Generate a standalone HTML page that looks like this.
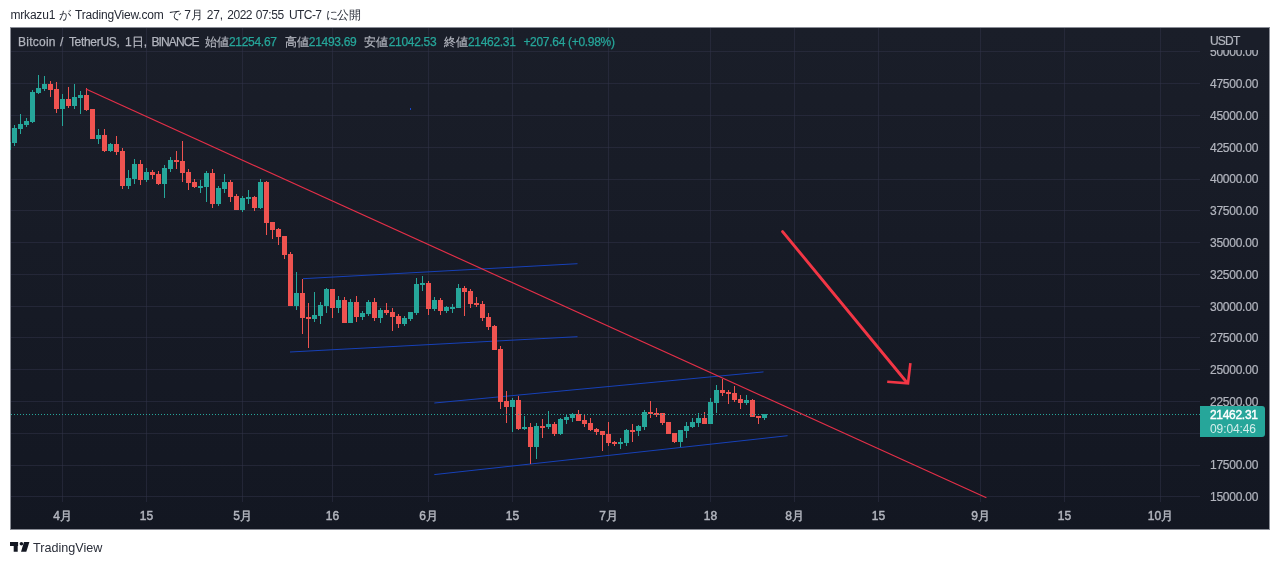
<!DOCTYPE html>
<html><head><meta charset="utf-8"><style>
html,body{margin:0;padding:0;background:#fff;width:1280px;height:565px;overflow:hidden;font-family:"Liberation Sans", sans-serif;}
#hdr{position:absolute;left:10px;top:5px;font-size:13px;color:#434651;white-space:nowrap;line-height:16px;}
#chart{position:absolute;left:10px;top:27px;width:1258px;height:501px;border:1px solid #8a8d96;background:linear-gradient(#1a1e29,#131722);}
#ft{position:absolute;left:33px;top:540px;font-size:12.6px;color:#2a2e39;line-height:16px;will-change:transform;}
svg{position:absolute;left:0;top:0;will-change:transform;}
</style></head><body>
<div id="chart"></div>
<svg width="1280" height="565" viewBox="0 0 1280 565" font-family='"Liberation Sans", sans-serif'>
<defs><clipPath id="pc"><rect x="11" y="28" width="1189" height="474"/></clipPath>
<clipPath id="ch"><rect x="11" y="28" width="1258" height="501"/></clipPath></defs>
<g shape-rendering="crispEdges"><rect x="11" y="51" width="1189" height="1" fill="rgba(50,52,74,0.5)"/><rect x="11" y="83" width="1189" height="1" fill="rgba(50,52,74,0.5)"/><rect x="11" y="115" width="1189" height="1" fill="rgba(50,52,74,0.5)"/><rect x="11" y="147" width="1189" height="1" fill="rgba(50,52,74,0.5)"/><rect x="11" y="179" width="1189" height="1" fill="rgba(50,52,74,0.5)"/><rect x="11" y="210" width="1189" height="1" fill="rgba(50,52,74,0.5)"/><rect x="11" y="242" width="1189" height="1" fill="rgba(50,52,74,0.5)"/><rect x="11" y="274" width="1189" height="1" fill="rgba(50,52,74,0.5)"/><rect x="11" y="306" width="1189" height="1" fill="rgba(50,52,74,0.5)"/><rect x="11" y="337" width="1189" height="1" fill="rgba(50,52,74,0.5)"/><rect x="11" y="369" width="1189" height="1" fill="rgba(50,52,74,0.5)"/><rect x="11" y="401" width="1189" height="1" fill="rgba(50,52,74,0.5)"/><rect x="11" y="433" width="1189" height="1" fill="rgba(50,52,74,0.5)"/><rect x="11" y="465" width="1189" height="1" fill="rgba(50,52,74,0.5)"/><rect x="11" y="496" width="1189" height="1" fill="rgba(50,52,74,0.5)"/><rect x="62" y="28" width="1" height="474" fill="rgba(50,52,74,0.5)"/><rect x="146" y="28" width="1" height="474" fill="rgba(50,52,74,0.5)"/><rect x="242" y="28" width="1" height="474" fill="rgba(50,52,74,0.5)"/><rect x="332" y="28" width="1" height="474" fill="rgba(50,52,74,0.5)"/><rect x="428" y="28" width="1" height="474" fill="rgba(50,52,74,0.5)"/><rect x="512" y="28" width="1" height="474" fill="rgba(50,52,74,0.5)"/><rect x="608" y="28" width="1" height="474" fill="rgba(50,52,74,0.5)"/><rect x="710" y="28" width="1" height="474" fill="rgba(50,52,74,0.5)"/><rect x="794" y="28" width="1" height="474" fill="rgba(50,52,74,0.5)"/><rect x="878" y="28" width="1" height="474" fill="rgba(50,52,74,0.5)"/><rect x="980" y="28" width="1" height="474" fill="rgba(50,52,74,0.5)"/><rect x="1064" y="28" width="1" height="474" fill="rgba(50,52,74,0.5)"/><rect x="1160" y="28" width="1" height="474" fill="rgba(50,52,74,0.5)"/></g>
<g clip-path="url(#pc)">
<line x1="303" y1="278.7" x2="577.5" y2="263.7" stroke="#1741b8" stroke-width="1.0"/><line x1="290" y1="352" x2="577.5" y2="336.7" stroke="#1741b8" stroke-width="1.0"/><line x1="434.3" y1="403" x2="763.5" y2="371.9" stroke="#1741b8" stroke-width="1.0"/><line x1="434.3" y1="474.6" x2="787.6" y2="435.7" stroke="#1741b8" stroke-width="1.0"/>
<g shape-rendering="crispEdges"><rect x="8" y="141" width="1" height="16" fill="#26a69a"/><rect x="6" y="142" width="5" height="7" fill="#26a69a"/><rect x="14" y="125" width="1" height="21" fill="#26a69a"/><rect x="12" y="128" width="5" height="15" fill="#26a69a"/><rect x="20" y="114" width="1" height="20" fill="#26a69a"/><rect x="18" y="124" width="5" height="5" fill="#26a69a"/><rect x="26" y="118" width="1" height="9" fill="#26a69a"/><rect x="24" y="121" width="5" height="4" fill="#26a69a"/><rect x="32" y="90" width="1" height="33" fill="#26a69a"/><rect x="30" y="92" width="5" height="30" fill="#26a69a"/><rect x="38" y="75" width="1" height="19" fill="#26a69a"/><rect x="36" y="88" width="5" height="5" fill="#26a69a"/><rect x="44" y="76" width="1" height="15" fill="#26a69a"/><rect x="42" y="84" width="5" height="5" fill="#26a69a"/><rect x="50" y="81" width="1" height="16" fill="#ef5350"/><rect x="48" y="84" width="5" height="6" fill="#ef5350"/><rect x="56" y="82" width="1" height="31" fill="#ef5350"/><rect x="54" y="89" width="5" height="20" fill="#ef5350"/><rect x="62" y="94" width="1" height="32" fill="#26a69a"/><rect x="60" y="99" width="5" height="10" fill="#26a69a"/><rect x="68" y="87" width="1" height="21" fill="#ef5350"/><rect x="66" y="99" width="5" height="7" fill="#ef5350"/><rect x="74" y="84" width="1" height="25" fill="#26a69a"/><rect x="72" y="97" width="5" height="9" fill="#26a69a"/><rect x="80" y="91" width="1" height="23" fill="#26a69a"/><rect x="78" y="95" width="5" height="3" fill="#26a69a"/><rect x="86" y="88" width="1" height="23" fill="#ef5350"/><rect x="84" y="95" width="5" height="15" fill="#ef5350"/><rect x="92" y="109" width="1" height="30" fill="#ef5350"/><rect x="90" y="109" width="5" height="30" fill="#ef5350"/><rect x="98" y="129" width="1" height="15" fill="#26a69a"/><rect x="96" y="135" width="5" height="4" fill="#26a69a"/><rect x="104" y="129" width="1" height="23" fill="#ef5350"/><rect x="102" y="135" width="5" height="16" fill="#ef5350"/><rect x="110" y="143" width="1" height="9" fill="#26a69a"/><rect x="108" y="144" width="5" height="7" fill="#26a69a"/><rect x="116" y="136" width="1" height="19" fill="#ef5350"/><rect x="114" y="144" width="5" height="8" fill="#ef5350"/><rect x="122" y="148" width="1" height="41" fill="#ef5350"/><rect x="120" y="151" width="5" height="35" fill="#ef5350"/><rect x="128" y="170" width="1" height="19" fill="#26a69a"/><rect x="126" y="178" width="5" height="8" fill="#26a69a"/><rect x="134" y="159" width="1" height="25" fill="#26a69a"/><rect x="132" y="164" width="5" height="15" fill="#26a69a"/><rect x="140" y="160" width="1" height="25" fill="#ef5350"/><rect x="138" y="164" width="5" height="16" fill="#ef5350"/><rect x="146" y="168" width="1" height="14" fill="#26a69a"/><rect x="144" y="172" width="5" height="8" fill="#26a69a"/><rect x="152" y="170" width="1" height="9" fill="#ef5350"/><rect x="150" y="172" width="5" height="3" fill="#ef5350"/><rect x="158" y="171" width="1" height="14" fill="#ef5350"/><rect x="156" y="174" width="5" height="10" fill="#ef5350"/><rect x="164" y="165" width="1" height="33" fill="#26a69a"/><rect x="162" y="168" width="5" height="16" fill="#26a69a"/><rect x="170" y="157" width="1" height="15" fill="#26a69a"/><rect x="168" y="160" width="5" height="9" fill="#26a69a"/><rect x="176" y="151" width="1" height="18" fill="#ef5350"/><rect x="174" y="160" width="5" height="2" fill="#ef5350"/><rect x="182" y="141" width="1" height="41" fill="#ef5350"/><rect x="180" y="161" width="5" height="12" fill="#ef5350"/><rect x="188" y="169" width="1" height="21" fill="#ef5350"/><rect x="186" y="172" width="5" height="11" fill="#ef5350"/><rect x="194" y="179" width="1" height="9" fill="#ef5350"/><rect x="192" y="182" width="5" height="5" fill="#ef5350"/><rect x="200" y="180" width="1" height="13" fill="#26a69a"/><rect x="198" y="186" width="5" height="2" fill="#26a69a"/><rect x="206" y="171" width="1" height="31" fill="#26a69a"/><rect x="204" y="173" width="5" height="14" fill="#26a69a"/><rect x="212" y="169" width="1" height="39" fill="#ef5350"/><rect x="210" y="173" width="5" height="31" fill="#ef5350"/><rect x="218" y="186" width="1" height="20" fill="#26a69a"/><rect x="216" y="188" width="5" height="16" fill="#26a69a"/><rect x="224" y="174" width="1" height="19" fill="#26a69a"/><rect x="222" y="182" width="5" height="7" fill="#26a69a"/><rect x="230" y="180" width="1" height="22" fill="#ef5350"/><rect x="228" y="182" width="5" height="15" fill="#ef5350"/><rect x="236" y="194" width="1" height="16" fill="#ef5350"/><rect x="234" y="196" width="5" height="14" fill="#ef5350"/><rect x="242" y="196" width="1" height="16" fill="#26a69a"/><rect x="240" y="198" width="5" height="12" fill="#26a69a"/><rect x="248" y="190" width="1" height="14" fill="#26a69a"/><rect x="246" y="197" width="5" height="2" fill="#26a69a"/><rect x="254" y="196" width="1" height="15" fill="#ef5350"/><rect x="252" y="197" width="5" height="11" fill="#ef5350"/><rect x="260" y="179" width="1" height="30" fill="#26a69a"/><rect x="258" y="182" width="5" height="26" fill="#26a69a"/><rect x="266" y="181" width="1" height="54" fill="#ef5350"/><rect x="264" y="182" width="5" height="41" fill="#ef5350"/><rect x="272" y="222" width="1" height="17" fill="#ef5350"/><rect x="270" y="222" width="5" height="8" fill="#ef5350"/><rect x="278" y="228" width="1" height="17" fill="#ef5350"/><rect x="276" y="229" width="5" height="8" fill="#ef5350"/><rect x="284" y="236" width="1" height="23" fill="#ef5350"/><rect x="282" y="236" width="5" height="19" fill="#ef5350"/><rect x="290" y="252" width="1" height="54" fill="#ef5350"/><rect x="288" y="254" width="5" height="52" fill="#ef5350"/><rect x="296" y="272" width="1" height="38" fill="#26a69a"/><rect x="294" y="293" width="5" height="13" fill="#26a69a"/><rect x="302" y="279" width="1" height="55" fill="#ef5350"/><rect x="300" y="293" width="5" height="25" fill="#ef5350"/><rect x="308" y="303" width="1" height="45" fill="#ef5350"/><rect x="306" y="317" width="5" height="2" fill="#ef5350"/><rect x="314" y="292" width="1" height="30" fill="#26a69a"/><rect x="312" y="315" width="5" height="4" fill="#26a69a"/><rect x="320" y="302" width="1" height="22" fill="#26a69a"/><rect x="318" y="305" width="5" height="11" fill="#26a69a"/><rect x="326" y="288" width="1" height="25" fill="#26a69a"/><rect x="324" y="289" width="5" height="17" fill="#26a69a"/><rect x="332" y="289" width="1" height="29" fill="#ef5350"/><rect x="330" y="289" width="5" height="19" fill="#ef5350"/><rect x="338" y="296" width="1" height="17" fill="#26a69a"/><rect x="336" y="300" width="5" height="8" fill="#26a69a"/><rect x="344" y="297" width="1" height="26" fill="#ef5350"/><rect x="342" y="300" width="5" height="23" fill="#ef5350"/><rect x="350" y="299" width="1" height="24" fill="#26a69a"/><rect x="348" y="302" width="5" height="21" fill="#26a69a"/><rect x="356" y="296" width="1" height="26" fill="#ef5350"/><rect x="354" y="302" width="5" height="15" fill="#ef5350"/><rect x="362" y="311" width="1" height="9" fill="#26a69a"/><rect x="360" y="313" width="5" height="4" fill="#26a69a"/><rect x="368" y="300" width="1" height="16" fill="#26a69a"/><rect x="366" y="302" width="5" height="12" fill="#26a69a"/><rect x="374" y="298" width="1" height="23" fill="#ef5350"/><rect x="372" y="302" width="5" height="16" fill="#ef5350"/><rect x="380" y="308" width="1" height="15" fill="#26a69a"/><rect x="378" y="310" width="5" height="8" fill="#26a69a"/><rect x="386" y="303" width="1" height="12" fill="#ef5350"/><rect x="384" y="310" width="5" height="3" fill="#ef5350"/><rect x="392" y="308" width="1" height="23" fill="#ef5350"/><rect x="390" y="312" width="5" height="5" fill="#ef5350"/><rect x="398" y="314" width="1" height="14" fill="#ef5350"/><rect x="396" y="316" width="5" height="8" fill="#ef5350"/><rect x="404" y="316" width="1" height="10" fill="#26a69a"/><rect x="402" y="318" width="5" height="6" fill="#26a69a"/><rect x="410" y="312" width="1" height="9" fill="#26a69a"/><rect x="408" y="312" width="5" height="7" fill="#26a69a"/><rect x="416" y="278" width="1" height="37" fill="#26a69a"/><rect x="414" y="284" width="5" height="29" fill="#26a69a"/><rect x="422" y="276" width="1" height="15" fill="#26a69a"/><rect x="420" y="283" width="5" height="2" fill="#26a69a"/><rect x="428" y="281" width="1" height="34" fill="#ef5350"/><rect x="426" y="283" width="5" height="26" fill="#ef5350"/><rect x="434" y="297" width="1" height="14" fill="#26a69a"/><rect x="432" y="300" width="5" height="9" fill="#26a69a"/><rect x="440" y="298" width="1" height="17" fill="#ef5350"/><rect x="438" y="300" width="5" height="11" fill="#ef5350"/><rect x="446" y="306" width="1" height="7" fill="#26a69a"/><rect x="444" y="307" width="5" height="4" fill="#26a69a"/><rect x="452" y="304" width="1" height="9" fill="#26a69a"/><rect x="450" y="307" width="5" height="2" fill="#26a69a"/><rect x="458" y="284" width="1" height="24" fill="#26a69a"/><rect x="456" y="288" width="5" height="20" fill="#26a69a"/><rect x="464" y="286" width="1" height="30" fill="#ef5350"/><rect x="462" y="288" width="5" height="4" fill="#ef5350"/><rect x="470" y="289" width="1" height="19" fill="#ef5350"/><rect x="468" y="291" width="5" height="13" fill="#ef5350"/><rect x="476" y="297" width="1" height="10" fill="#ef5350"/><rect x="474" y="303" width="5" height="2" fill="#ef5350"/><rect x="482" y="301" width="1" height="20" fill="#ef5350"/><rect x="480" y="304" width="5" height="14" fill="#ef5350"/><rect x="488" y="313" width="1" height="17" fill="#ef5350"/><rect x="486" y="317" width="5" height="10" fill="#ef5350"/><rect x="494" y="325" width="1" height="25" fill="#ef5350"/><rect x="492" y="326" width="5" height="24" fill="#ef5350"/><rect x="500" y="346" width="1" height="63" fill="#ef5350"/><rect x="498" y="349" width="5" height="53" fill="#ef5350"/><rect x="506" y="391" width="1" height="32" fill="#ef5350"/><rect x="504" y="401" width="5" height="6" fill="#ef5350"/><rect x="512" y="398" width="1" height="34" fill="#26a69a"/><rect x="510" y="400" width="5" height="7" fill="#26a69a"/><rect x="518" y="396" width="1" height="34" fill="#ef5350"/><rect x="516" y="400" width="5" height="29" fill="#ef5350"/><rect x="524" y="416" width="1" height="14" fill="#26a69a"/><rect x="522" y="427" width="5" height="2" fill="#26a69a"/><rect x="530" y="423" width="1" height="41" fill="#ef5350"/><rect x="528" y="427" width="5" height="20" fill="#ef5350"/><rect x="536" y="423" width="1" height="36" fill="#26a69a"/><rect x="534" y="426" width="5" height="21" fill="#26a69a"/><rect x="542" y="419" width="1" height="19" fill="#ef5350"/><rect x="540" y="426" width="5" height="2" fill="#ef5350"/><rect x="548" y="411" width="1" height="18" fill="#26a69a"/><rect x="546" y="424" width="5" height="3" fill="#26a69a"/><rect x="554" y="422" width="1" height="14" fill="#ef5350"/><rect x="552" y="424" width="5" height="10" fill="#ef5350"/><rect x="560" y="418" width="1" height="17" fill="#26a69a"/><rect x="558" y="419" width="5" height="15" fill="#26a69a"/><rect x="566" y="414" width="1" height="10" fill="#26a69a"/><rect x="564" y="417" width="5" height="3" fill="#26a69a"/><rect x="572" y="413" width="1" height="9" fill="#26a69a"/><rect x="570" y="414" width="5" height="4" fill="#26a69a"/><rect x="578" y="410" width="1" height="11" fill="#ef5350"/><rect x="576" y="414" width="5" height="7" fill="#ef5350"/><rect x="584" y="414" width="1" height="13" fill="#ef5350"/><rect x="582" y="420" width="5" height="4" fill="#ef5350"/><rect x="590" y="418" width="1" height="13" fill="#ef5350"/><rect x="588" y="423" width="5" height="7" fill="#ef5350"/><rect x="596" y="428" width="1" height="7" fill="#ef5350"/><rect x="594" y="429" width="5" height="3" fill="#ef5350"/><rect x="602" y="431" width="1" height="20" fill="#ef5350"/><rect x="600" y="431" width="5" height="4" fill="#ef5350"/><rect x="608" y="422" width="1" height="24" fill="#ef5350"/><rect x="606" y="434" width="5" height="9" fill="#ef5350"/><rect x="614" y="441" width="1" height="5" fill="#ef5350"/><rect x="612" y="442" width="5" height="2" fill="#ef5350"/><rect x="620" y="438" width="1" height="11" fill="#26a69a"/><rect x="618" y="442" width="5" height="2" fill="#26a69a"/><rect x="626" y="429" width="1" height="17" fill="#26a69a"/><rect x="624" y="430" width="5" height="13" fill="#26a69a"/><rect x="632" y="424" width="1" height="18" fill="#ef5350"/><rect x="630" y="430" width="5" height="2" fill="#ef5350"/><rect x="638" y="425" width="1" height="11" fill="#26a69a"/><rect x="636" y="426" width="5" height="5" fill="#26a69a"/><rect x="644" y="410" width="1" height="20" fill="#26a69a"/><rect x="642" y="412" width="5" height="15" fill="#26a69a"/><rect x="650" y="401" width="1" height="17" fill="#ef5350"/><rect x="648" y="412" width="5" height="2" fill="#ef5350"/><rect x="656" y="408" width="1" height="9" fill="#ef5350"/><rect x="654" y="413" width="5" height="2" fill="#ef5350"/><rect x="662" y="413" width="1" height="12" fill="#ef5350"/><rect x="660" y="413" width="5" height="10" fill="#ef5350"/><rect x="668" y="422" width="1" height="12" fill="#ef5350"/><rect x="666" y="422" width="5" height="12" fill="#ef5350"/><rect x="674" y="433" width="1" height="10" fill="#ef5350"/><rect x="672" y="433" width="5" height="9" fill="#ef5350"/><rect x="680" y="430" width="1" height="17" fill="#26a69a"/><rect x="678" y="430" width="5" height="12" fill="#26a69a"/><rect x="686" y="422" width="1" height="16" fill="#26a69a"/><rect x="684" y="426" width="5" height="5" fill="#26a69a"/><rect x="692" y="418" width="1" height="10" fill="#26a69a"/><rect x="690" y="422" width="5" height="5" fill="#26a69a"/><rect x="698" y="413" width="1" height="14" fill="#26a69a"/><rect x="696" y="418" width="5" height="5" fill="#26a69a"/><rect x="704" y="412" width="1" height="12" fill="#ef5350"/><rect x="702" y="418" width="5" height="6" fill="#ef5350"/><rect x="710" y="398" width="1" height="26" fill="#26a69a"/><rect x="708" y="402" width="5" height="22" fill="#26a69a"/><rect x="716" y="385" width="1" height="28" fill="#26a69a"/><rect x="714" y="390" width="5" height="13" fill="#26a69a"/><rect x="722" y="379" width="1" height="17" fill="#ef5350"/><rect x="720" y="390" width="5" height="3" fill="#ef5350"/><rect x="728" y="390" width="1" height="14" fill="#ef5350"/><rect x="726" y="392" width="5" height="2" fill="#ef5350"/><rect x="734" y="386" width="1" height="16" fill="#ef5350"/><rect x="732" y="393" width="5" height="7" fill="#ef5350"/><rect x="740" y="395" width="1" height="14" fill="#ef5350"/><rect x="738" y="399" width="5" height="4" fill="#ef5350"/><rect x="746" y="395" width="1" height="10" fill="#26a69a"/><rect x="744" y="400" width="5" height="3" fill="#26a69a"/><rect x="752" y="399" width="1" height="18" fill="#ef5350"/><rect x="750" y="400" width="5" height="17" fill="#ef5350"/><rect x="758" y="416" width="1" height="8" fill="#ef5350"/><rect x="756" y="416" width="5" height="2" fill="#ef5350"/><rect x="764" y="414" width="1" height="6" fill="#26a69a"/><rect x="762" y="414" width="5" height="4" fill="#26a69a"/></g>
<line x1="11" y1="414.5" x2="1200" y2="414.5" stroke="#26a69a" stroke-width="1" stroke-dasharray="1 2"/>
<line x1="85.9" y1="89.1" x2="986.4" y2="497.8" stroke="#e42f48" stroke-width="1.15"/><path d="M782.6 231.6 L906.5 382" fill="none" stroke="#f23645" stroke-width="2.9" stroke-linecap="round"/><path d="M887.2 381.8 L908 383.4 L910.4 363.2" fill="none" stroke="#f23645" stroke-width="2.6" stroke-linejoin="miter" stroke-miterlimit="10" stroke-linecap="butt"/><rect x="410" y="108" width="1" height="2" fill="#1848cc"/>
</g>
<g clip-path="url(#ch)">
<rect x="1200" y="28" width="68" height="22" fill="#1a1e29"/>
<g font-size="12" fill="#b2b5be" stroke="#b2b5be" stroke-width="0.2" letter-spacing="-0.25"><text x="1210" y="56.2">50000.00</text><text x="1210" y="88.0">47500.00</text><text x="1210" y="119.8">45000.00</text><text x="1210" y="151.6">42500.00</text><text x="1210" y="183.3">40000.00</text><text x="1210" y="215.1">37500.00</text><text x="1210" y="246.9">35000.00</text><text x="1210" y="278.7">32500.00</text><text x="1210" y="310.5">30000.00</text><text x="1210" y="342.3">27500.00</text><text x="1210" y="374.1">25000.00</text><text x="1210" y="405.8">22500.00</text><text x="1210" y="469.4">17500.00</text><text x="1210" y="501.2">15000.00</text></g>
<rect x="1200" y="28" width="68" height="22" fill="#1a1e29"/>
<text x="1210" y="45" font-size="12" fill="#b2b5be" stroke="#b2b5be" stroke-width="0.2" letter-spacing="-0.8">USDT</text>
<g font-size="12" fill="#b2b5be" stroke="#b2b5be" stroke-width="0.45"><text x="62.5" y="520" text-anchor="middle">4月</text><text x="146.5" y="520" text-anchor="middle">15</text><text x="242.5" y="520" text-anchor="middle">5月</text><text x="332.5" y="520" text-anchor="middle">16</text><text x="428.5" y="520" text-anchor="middle">6月</text><text x="512.5" y="520" text-anchor="middle">15</text><text x="608.5" y="520" text-anchor="middle">7月</text><text x="710.5" y="520" text-anchor="middle">18</text><text x="794.5" y="520" text-anchor="middle">8月</text><text x="878.5" y="520" text-anchor="middle">15</text><text x="980.5" y="520" text-anchor="middle">9月</text><text x="1064.5" y="520" text-anchor="middle">15</text><text x="1160.5" y="520" text-anchor="middle">10月</text></g>
<path d="M1200 406 H1262 Q1265 406 1265 409 V434 Q1265 437 1262 437 H1200 Z" fill="#26a69a"/>
<text x="1210" y="419" font-size="12" fill="#fff" stroke="#fff" stroke-width="0.4" letter-spacing="-0.3">21462.31</text>
<text x="1210" y="433" font-size="12" fill="#fff" fill-opacity="0.8" letter-spacing="-0.1">09:04:46</text>
<g font-size="12" fill="#b2b5be" stroke="#b2b5be" stroke-width="0.25"><text x="18" y="46" letter-spacing="0.25">Bitcoin</text><text x="60" y="46">/</text><text x="68.9" y="46" letter-spacing="-0.3">TetherUS,</text><text x="125" y="46">1日,</text><text x="151.5" y="46" letter-spacing="-0.9">BINANCE</text></g><g font-size="12" fill="#b2b5be" stroke="#b2b5be" stroke-width="0.2"><text x="204.6" y="46">始値</text><text x="284.5" y="46">高値</text><text x="364.3" y="46">安値</text><text x="443.7" y="46">終値</text></g><g font-size="12" fill="#26a69a" stroke="#26a69a" stroke-width="0.25" letter-spacing="-0.3"><text x="229" y="46">21254.67</text><text x="308.8" y="46">21493.69</text><text x="388.7" y="46">21042.53</text><text x="467.9" y="46">21462.31</text><text x="523.4" y="46">+207.64 (+0.98%)</text></g>
</g>
<g font-size="12" fill="#272b36" letter-spacing="-0.2"><text x="10.5" y="19">mrkazu1</text><text x="59.4" y="19">が</text><text x="75.1" y="19">TradingView.com</text><text x="169.3" y="19">で</text><text x="184.2" y="19">7月</text><text x="206.7" y="19">27,</text><text x="227.3" y="19" letter-spacing="-0.5">2022</text><text x="255.7" y="19" letter-spacing="-0.4">07:55</text><text x="288.9" y="19" letter-spacing="-0.55">UTC-7</text><text x="325.8" y="19" letter-spacing="-0.6">に公開</text></g>
<rect x="10" y="142" width="1" height="8" fill="#72c6bc"/>
<g fill="#131722">
<path d="M10 542 H18.1 V546 H17.7 V551.8 H13.7 V546 H10 Z"/>
<circle cx="21.4" cy="543.7" r="1.8"/>
<path d="M24 542 H29.4 L26.3 551.8 H21 Z"/>
</g>
</svg>
<div id="ft">TradingView</div>
</body></html>
